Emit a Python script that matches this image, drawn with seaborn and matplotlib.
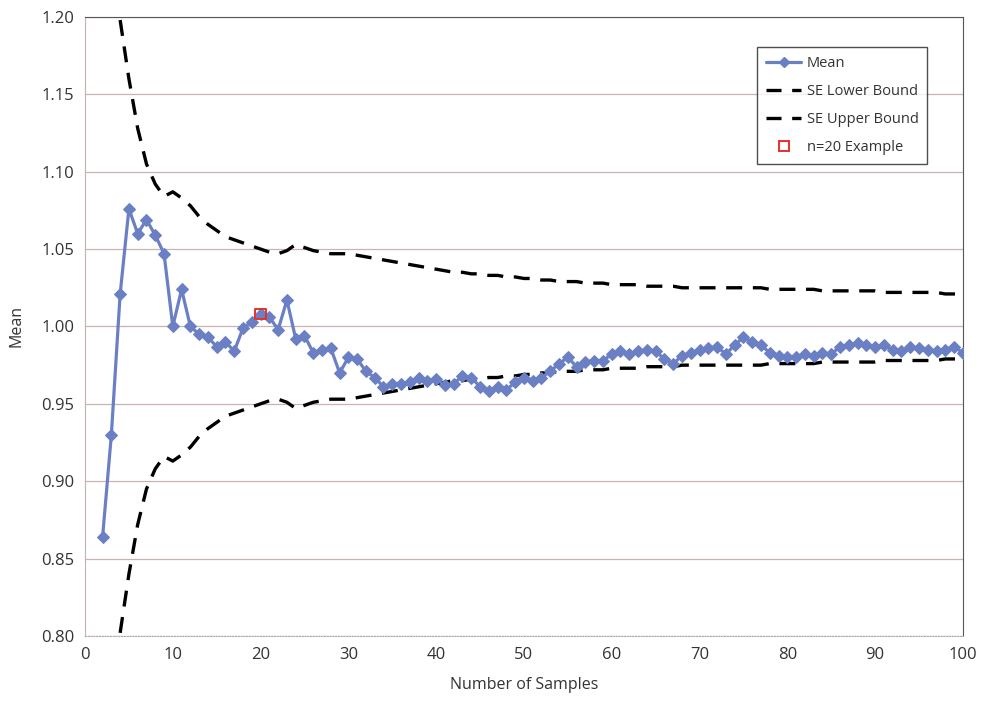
import numpy as np
import pandas as pd
import seaborn as sns
import matplotlib.pyplot as plt
from matplotlib.lines import Line2D

# sample counts and running mean
n_mean = list(range(2, 101))
mean_vals = [
    0.864, 0.930, 1.021, 1.076, 1.060, 1.069, 1.059, 1.047, 1.000, 1.024,
    1.000, 0.995, 0.993, 0.987, 0.990, 0.984, 0.999, 1.003, 1.008, 1.006,
    0.998, 1.017, 0.992, 0.994, 0.983, 0.985, 0.986, 0.970, 0.980, 0.979,
    0.971, 0.967, 0.961, 0.963, 0.963, 0.964, 0.967, 0.965, 0.966, 0.962,
    0.963, 0.968, 0.967, 0.961, 0.958, 0.961, 0.959, 0.964, 0.967, 0.965,
    0.967, 0.971, 0.976, 0.980, 0.974, 0.977, 0.978, 0.978, 0.982, 0.984,
    0.982, 0.984, 0.985, 0.984, 0.979, 0.976, 0.981, 0.983, 0.985, 0.986,
    0.987, 0.982, 0.988, 0.993, 0.990, 0.988, 0.983, 0.981, 0.980, 0.980,
    0.982, 0.981, 0.983, 0.982, 0.987, 0.988, 0.989, 0.988, 0.987, 0.988,
    0.985, 0.984, 0.987, 0.986, 0.985, 0.984, 0.985, 0.987, 0.983,
]

# standard error bounds
n_bound = list(range(4, 101))
upper_vals = [
    1.198, 1.160, 1.128, 1.105, 1.092, 1.084, 1.087, 1.083, 1.078, 1.071,
    1.066, 1.062, 1.058, 1.056, 1.054, 1.052, 1.050, 1.048, 1.047, 1.049,
    1.053, 1.051, 1.049, 1.048, 1.047, 1.047, 1.047, 1.046, 1.045, 1.044,
    1.043, 1.042, 1.041, 1.040, 1.039, 1.038, 1.037, 1.036, 1.035, 1.035,
    1.034, 1.034, 1.033, 1.033, 1.032, 1.032, 1.031, 1.031, 1.030, 1.030,
    1.029, 1.029, 1.029, 1.028, 1.028, 1.028, 1.027, 1.027, 1.027, 1.027,
    1.026, 1.026, 1.026, 1.026, 1.025, 1.025, 1.025, 1.025, 1.025, 1.025,
    1.025, 1.025, 1.025, 1.025, 1.024, 1.024, 1.024, 1.024, 1.024, 1.024,
    1.023, 1.023, 1.023, 1.023, 1.023, 1.023, 1.023, 1.022, 1.022, 1.022,
    1.022, 1.022, 1.022, 1.022, 1.021, 1.021, 1.021,
]
lower_vals = [
    0.802, 0.840, 0.872, 0.895, 0.908, 0.916, 0.913, 0.917, 0.922, 0.929,
    0.934, 0.938, 0.942, 0.944, 0.946, 0.948, 0.950, 0.952, 0.953, 0.951,
    0.947, 0.949, 0.951, 0.952, 0.953, 0.953, 0.953, 0.954, 0.955, 0.956,
    0.957, 0.958, 0.959, 0.960, 0.961, 0.962, 0.963, 0.964, 0.965, 0.965,
    0.966, 0.966, 0.967, 0.967, 0.968, 0.968, 0.969, 0.969, 0.970, 0.970,
    0.971, 0.971, 0.971, 0.972, 0.972, 0.972, 0.973, 0.973, 0.973, 0.973,
    0.974, 0.974, 0.974, 0.974, 0.975, 0.975, 0.975, 0.975, 0.975, 0.975,
    0.975, 0.975, 0.975, 0.975, 0.976, 0.976, 0.976, 0.976, 0.976, 0.976,
    0.977, 0.977, 0.977, 0.977, 0.977, 0.977, 0.977, 0.978, 0.978, 0.978,
    0.978, 0.978, 0.978, 0.978, 0.979, 0.979, 0.979,
]

example_n = [20]
example_val = [1.008]

x_ticks = list(range(0, 101, 10))
y_ticks = [0.80, 0.85, 0.90, 0.95, 1.00, 1.05, 1.10, 1.15, 1.20]

mean_df = pd.DataFrame({'n': n_mean, 'mean': mean_vals})
bound_df = pd.DataFrame({'n': n_bound, 'lower': lower_vals, 'upper': upper_vals})

sns.set_style("white")
plt.rcParams['font.family'] = ['Open Sans', 'DejaVu Sans']

blue = '#6b80c4'
grid_col = '#cfb0b0'

fig = plt.figure(figsize=(9.83, 7.06), dpi=100)
ax = fig.add_axes([0.0865, 0.0992, 0.893, 0.8768])

for col in ['lower', 'upper']:
    sns.lineplot(data=bound_df, x='n', y=col, ax=ax, color='black',
                 linewidth=2.4, dashes=False, zorder=3)
for line in ax.lines:
    line.set_dashes((4.8, 3.2))

sns.lineplot(data=mean_df, x='n', y='mean', ax=ax, color=blue, linewidth=2.3,
             marker='D', markersize=6.5, markeredgecolor=blue, zorder=4)
ax.scatter(example_n, example_val, marker='s', s=60, facecolor='none',
           edgecolor='#e8302a', linewidth=1.4, zorder=5)

ax.set_xlim(0, 100)
ax.set_ylim(0.80, 1.20)
ax.set_xticks(x_ticks)
ax.set_yticks(y_ticks)
ax.set_yticklabels([f'{v:.2f}' for v in y_ticks])
ax.yaxis.grid(True, color=grid_col, linewidth=0.9)
ax.xaxis.grid(False)
ax.set_axisbelow(True)

ax.spines['top'].set_color('#555555')
ax.spines['right'].set_color('#555555')
ax.spines['left'].set_color('#c8b0b0')
ax.spines['bottom'].set_color('#aaaaaa')
ax.spines['bottom'].set_linestyle((0, (1, 1.5)))
ax.tick_params(axis='both', labelsize=12, colors='#333333', length=4,
               direction='out', width=0.8)
ax.tick_params(axis='x', direction='in', color='#aaaaaa', pad=8)
ax.tick_params(axis='y', color='#c8b0b0')

ax.set_xlabel('Number of Samples', fontsize=11.5, color='#333333', labelpad=10)
ax.set_ylabel('Mean', fontsize=11.5, color='#333333', labelpad=12)

handles = [
    Line2D([], [], color=blue, linewidth=2.3, marker='D', markersize=5),
    Line2D([], [], color='black', linewidth=2.4, dashes=(4.5, 3.2)),
    Line2D([], [], color='black', linewidth=2.4, dashes=(4.5, 3.2)),
    Line2D([], [], linestyle='none', marker='s', markersize=7,
           markerfacecolor='none', markeredgecolor='#e8302a', markeredgewidth=1.4),
]
labels = ['Mean', 'SE Lower Bound', 'SE Upper Bound', 'n=20 Example']
leg = ax.legend(handles, labels, loc='upper right', bbox_to_anchor=(0.968, 0.963),
                fontsize=10.5, frameon=True, fancybox=False, edgecolor='#222222',
                handlelength=2.4, handletextpad=0.4, labelspacing=0.9,
                borderpad=0.6)
leg.get_frame().set_linewidth(1.0)
for t in leg.get_texts():
    t.set_color('#333333')

plt.savefig('out.png', dpi=100)
